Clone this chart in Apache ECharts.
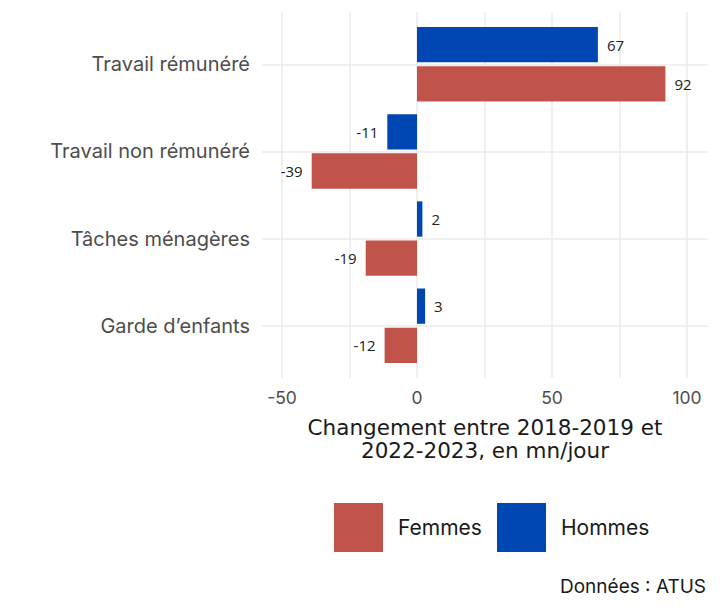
<!DOCTYPE html>
<html><head><meta charset="utf-8">
<script src="https://cdn.jsdelivr.net/npm/echarts@6/dist/echarts.min.js"></script>
<style>html,body{margin:0;padding:0;background:#fff}#c{width:720px;height:611px}</style>
</head><body><div id="c"></div>
<script>
const categories = ['Travail rémunéré', 'Travail non rémunéré', 'Tâches ménagères', 'Garde d’enfants'];
const femmes = [92, -39, -19, -12];
const hommes = [67, -11, 2, 3];
const xTickLabels = [-50, 0, 50, 100];

const FONT = 'Inter, "Noto Sans", sans-serif';
const TITLE_FONT = '"DejaVu Sans", Inter, sans-serif';
const COL_F = '#C0544A';
const COL_H = '#0047B3';

function barData(arr) {
  return arr.map(v => ({ value: v, label: { position: v >= 0 ? 'right' : 'left' } }));
}
const lbl = { show: true, formatter: '{c}', fontFamily: '"Open Sans", sans-serif', fontSize: 15, color: '#222', distance: 9 };

// panel: y from 12 to 378; discrete expansion 0.6 -> bands from 20.7 to 369.3
const chart = echarts.init(document.getElementById('c'), null, { renderer: 'svg' });
chart.setOption({
  animation: false,
  backgroundColor: '#fff',
  grid: [
    { left: 282, width: 405, top: 12, height: 366 },          // vertical grid lines
    { left: 282, width: 405, top: 20.7, height: 348.6 },      // bars
    { left: 262, width: 446, top: 20.7, height: 348.6 }       // category labels + horizontal lines
  ],
  xAxis: [
    { type: 'value', gridIndex: 0, min: -50, max: 100, interval: 25,
      axisLine: { show: false }, axisTick: { show: false },
      axisLabel: { margin: 10, fontFamily: FONT, fontSize: 17.5, color: '#4D4D4D',
        formatter: v => xTickLabels.includes(v) ? String(v) : '' },
      splitLine: { show: true, lineStyle: { color: '#EBEBEB', width: 1.5 } } },
    { type: 'value', gridIndex: 1, min: -50, max: 100, show: false, splitLine: { show: false } },
    { type: 'value', gridIndex: 2, show: false, min: 0, max: 1, splitLine: { show: false } }
  ],
  yAxis: [
    { type: 'category', gridIndex: 0, data: categories, show: false },
    { type: 'category', gridIndex: 1, data: categories, inverse: true,
      axisLine: { show: false }, axisTick: { show: false }, axisLabel: { show: false }, splitLine: { show: false } },
    { type: 'category', gridIndex: 2, data: categories, inverse: true,
      axisLine: { show: false }, axisTick: { show: false },
      axisLabel: { margin: 12, fontFamily: FONT, fontSize: 20, color: '#4D4D4D' },
      splitLine: { show: true, alignWithLabel: true, lineStyle: { color: '#EBEBEB', width: 1.5 } } }
  ],
  legend: [
    { data: ['Femmes'], left: 329, top: 498, itemWidth: 49, itemHeight: 49, icon: 'rect', selectedMode: false,
      textStyle: { fontFamily: FONT, fontSize: 21, color: '#1A1A1A', padding: [0, 0, 0, 10] } },
    { data: ['Hommes'], left: 492, top: 498, itemWidth: 49, itemHeight: 49, icon: 'rect', selectedMode: false,
      textStyle: { fontFamily: FONT, fontSize: 21, color: '#1A1A1A', padding: [0, 0, 0, 10] } }
  ],
  graphic: [
    { type: 'text', x: 485, y: 427.5, style: { text: 'Changement entre 2018-2019 et',
      textAlign: 'center', textVerticalAlign: 'middle', fontFamily: TITLE_FONT, fontSize: 21.5, fill: '#1A1A1A' } },
    { type: 'text', x: 485, y: 450.5, style: { text: '2022-2023, en mn/jour',
      textAlign: 'center', textVerticalAlign: 'middle', fontFamily: TITLE_FONT, fontSize: 21.5, fill: '#1A1A1A' } },
    { type: 'text', x: 706, y: 586, style: { text: 'Données : ATUS', textAlign: 'right', textVerticalAlign: 'middle',
      fontFamily: FONT, fontSize: 19, fill: '#1A1A1A' } }
  ],
  series: [
    { name: 'Hommes', type: 'bar', xAxisIndex: 1, yAxisIndex: 1, data: barData(hommes),
      itemStyle: { color: COL_H }, label: lbl, barGap: '11%', barCategoryGap: '14.6%' },
    { name: 'Femmes', type: 'bar', xAxisIndex: 1, yAxisIndex: 1, data: barData(femmes),
      itemStyle: { color: COL_F }, label: lbl, barGap: '11%', barCategoryGap: '14.6%' }
  ]
});
</script></body></html>
